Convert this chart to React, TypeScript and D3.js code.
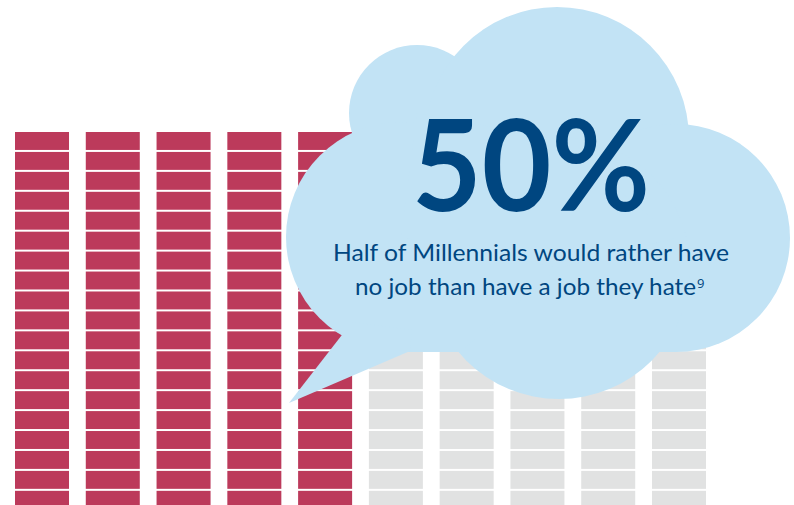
import React from "react";
import * as d3 from "d3";

// ---- data ----
const shareValue = 50; // percent of Millennials
const columnIds = [1, 2, 3, 4, 5, 6, 7, 8, 9, 10];
const rowIds = [1, 2, 3, 4, 5, 6, 7, 8, 9, 10, 11, 12, 13, 14, 15, 16, 17, 18, 19];
const headline = "50%";
const subtitleLines = ["Half of Millennials would rather have", "no job than have a job they hate"];
const footnoteMark = "9";

const W = 794;
const H = 505;
const RED = "#BC3A5B";
const GRAY = "#E1E2E2";
const CLOUD = "#C2E3F5";
const BLUE = "#004680";

export default function App() {
  const x = d3.scaleBand<number>().domain(columnIds).range([15, 706]).paddingInner(0.237).paddingOuter(0);
  const y = d3.scaleBand<number>().domain(rowIds).range([132, 132 + 19 * 19.83]).paddingInner(0.1).paddingOuter(0);
  const filledCols = (shareValue / 100) * columnIds.length;

  const line = d3.line();
  const circles: [number, number, number][] = [
    [417, 113, 68],
    [557, 139, 132],
    [676, 238, 114],
    [559, 268, 131],
    [401, 237, 115],
  ];
  const polys: [number, number][][] = [
    [[417, 113], [557, 139], [676, 238], [559, 268], [401, 237]],
    [[401, 237], [401, 352], [460, 352], [559, 268]],
    [[559, 268], [655, 352], [676, 352], [676, 238]],
    [[289, 403], [352, 322], [412, 330], [410, 351]],
  ];

  return (
    <svg width={W} height={H} style={{ position: "absolute", left: 0, top: 0, background: "#fff" }}>
      <g>
        {columnIds.map((c, ci) =>
          rowIds.map((r) => (
            <rect
              key={`${c}-${r}`}
              x={x(c)}
              y={y(r)}
              width={x.bandwidth()}
              height={y.bandwidth()}
              fill={ci < filledCols ? RED : GRAY}
            />
          ))
        )}
      </g>
      <g fill={CLOUD}>
        {circles.map(([cx, cy, r], i) => (
          <circle key={i} cx={cx} cy={cy} r={r} />
        ))}
        {polys.map((p, i) => (
          <path key={i} d={line(p) + "Z"} />
        ))}
      </g>
      <text
        x={412}
        y={211}
        fontFamily="Lato, sans-serif"
        fontWeight={700}
        fontSize={127}
        fill={BLUE}
        textLength={238}
        lengthAdjust="spacingAndGlyphs"
      >
        {headline}
      </text>
      <text
        x={333}
        y={261}
        fontFamily="Lato, sans-serif"
        fontSize={24}
        fill={BLUE}
        textLength={396}
        lengthAdjust="spacingAndGlyphs"
      >
        {subtitleLines[0]}
      </text>
      <text
        x={355}
        y={295}
        fontFamily="Lato, sans-serif"
        fontSize={24}
        fill={BLUE}
        textLength={341}
        lengthAdjust="spacingAndGlyphs"
      >
        {subtitleLines[1]}
      </text>
      <text x={697} y={288} fontFamily="'Open Sans', sans-serif" fontSize={13} fill={BLUE}>
        {footnoteMark}
      </text>
    </svg>
  );
}
